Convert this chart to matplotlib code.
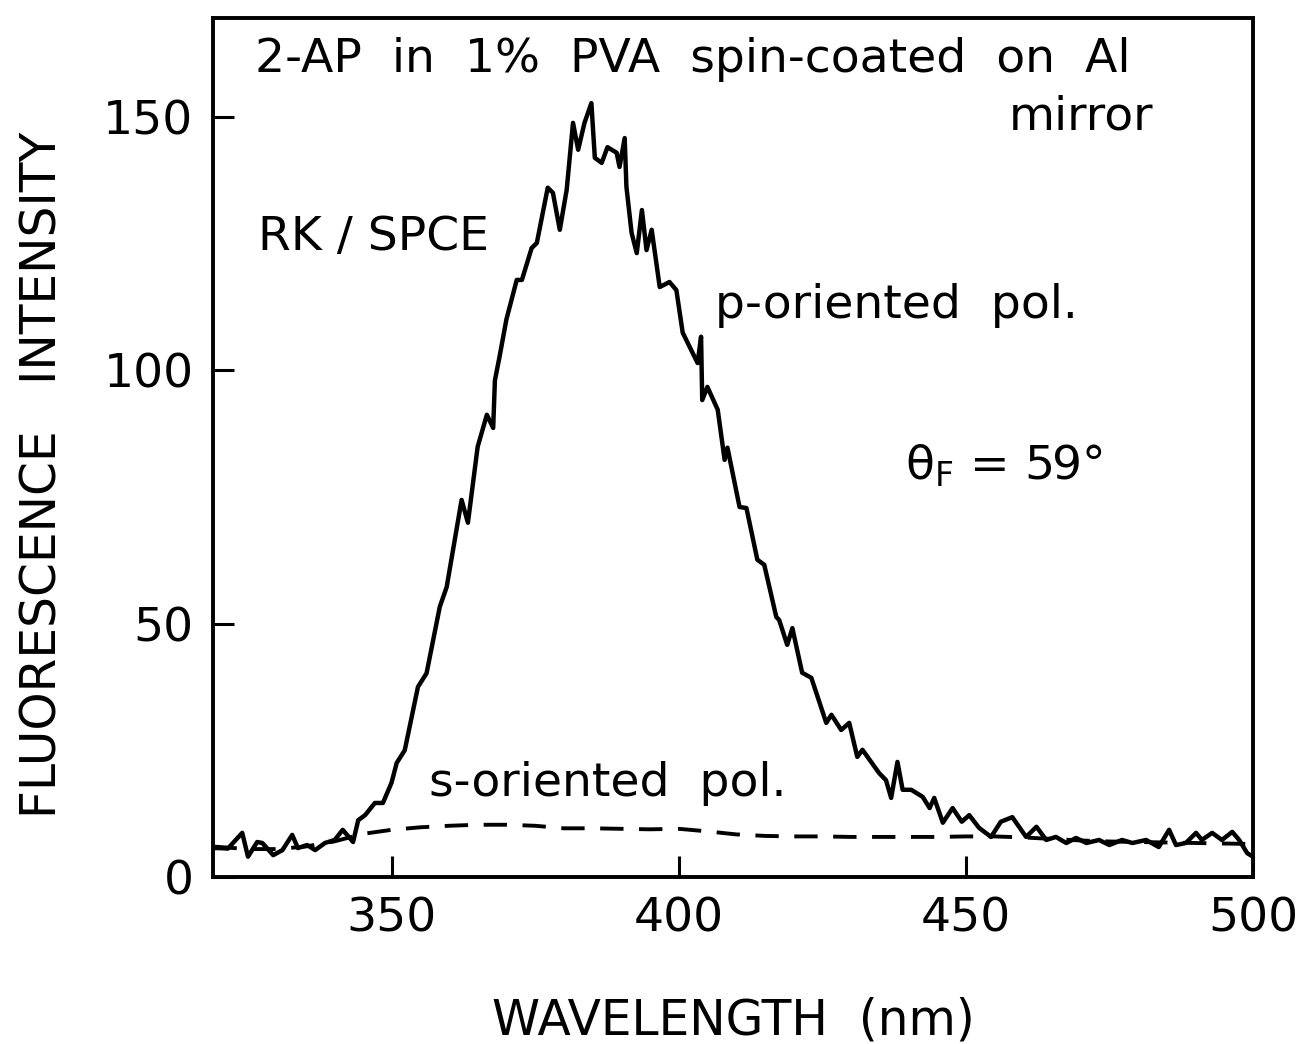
import matplotlib
matplotlib.use("Agg")
import matplotlib.pyplot as plt

# p-oriented polarisation (solid)
wl_p = [318.9, 320.0, 321.5, 324.0, 325.0, 326.6, 327.5, 329.4, 331.0, 332.7,
        333.7, 335.3, 336.7, 338.4, 340.1, 341.5, 343.3, 344.2, 345.4, 347.1,
        348.5, 350.0, 350.9, 352.3, 354.6, 356.1, 358.4, 359.6, 362.2, 363.3,
        365.0, 366.6, 367.7, 368.0, 368.8, 370.0, 371.8, 372.7, 374.4, 375.3,
        377.2, 378.1, 379.3, 380.5, 381.6, 382.5, 383.6, 384.8, 385.4, 386.6,
        387.6, 389.2, 389.7, 390.6, 390.9, 391.8, 392.7, 393.6, 394.4, 395.3,
        396.7, 398.4, 399.6, 400.7, 403.3, 403.9, 404.1, 405.0, 406.8, 408.0,
        408.5, 410.6, 411.8, 413.7, 414.9, 417.0, 417.5, 418.9, 419.8, 421.5,
        423.1, 425.7, 426.6, 428.3, 429.7, 431.1, 432.0, 434.9, 436.1, 437.0,
        438.1, 439.0, 440.5, 442.5, 443.7, 444.5, 446.0, 447.7, 449.3, 450.6,
        452.3, 454.4, 456.1, 458.1, 460.5, 462.3, 464.0, 465.7, 467.5, 469.2,
        471.0, 473.2, 475.0, 477.2, 479.0, 481.4, 483.6, 485.4, 486.6, 488.3,
        490.1, 491.1, 492.9, 494.6, 496.4, 497.6, 499.0, 500.0]
int_p = [5.7, 5.7, 5.6, 8.7, 4.0, 6.9, 6.7, 4.3, 5.3, 8.3,
         5.7, 6.3, 5.3, 6.7, 7.3, 9.3, 6.9, 11.2, 12.2, 14.6,
         14.6, 18.6, 22.5, 25.0, 37.5, 40.2, 53.3, 57.2, 74.4, 69.9,
         84.9, 91.2, 88.6, 98.0, 102.6, 110.0, 117.8, 117.8, 124.1, 125.1,
         136.0, 135.0, 127.7, 135.6, 148.8, 143.5, 148.8, 152.7, 141.9, 140.9,
         144.0, 142.9, 140.1, 145.8, 136.2, 127.1, 123.1, 131.6, 123.7, 127.7,
         116.4, 117.4, 115.8, 107.4, 101.4, 106.6, 94.1, 96.7, 92.2, 82.3,
         84.7, 73.0, 72.8, 62.6, 61.6, 51.3, 50.7, 45.8, 49.1, 40.3,
         39.3, 30.4, 32.0, 29.0, 30.4, 23.7, 25.1, 20.5, 19.1, 15.6,
         22.7, 17.2, 17.2, 15.8, 13.6, 15.6, 10.7, 13.6, 10.9, 12.2,
         9.7, 7.9, 10.9, 11.8, 7.9, 9.9, 7.3, 7.9, 6.7, 7.7,
         6.7, 7.3, 6.3, 7.3, 6.7, 7.3, 5.9, 9.3, 6.3, 6.7,
         8.7, 7.3, 8.7, 7.3, 8.9, 7.3, 4.7, 4.0]

# s-oriented polarisation (dashed)
wl_s = [319, 325, 330, 335, 340, 345, 350, 355, 360, 365, 370, 375, 380,
        385, 390, 395, 400, 405, 410, 415, 420, 425, 430, 435, 440, 445,
        450, 455, 460, 465, 470, 475, 480, 485, 490, 495, 500]
int_s = [6.0, 5.5, 5.5, 6.0, 7.0, 8.5, 9.3, 9.8, 10.1, 10.3, 10.3, 10.1, 9.6,
         9.6, 9.5, 9.4, 9.5, 9.0, 8.4, 8.1, 8.0, 8.0, 7.9, 7.9, 7.9, 7.9,
         8.0, 8.0, 7.8, 7.5, 7.2, 7.0, 6.9, 6.8, 6.7, 6.6, 6.5]

fig = plt.figure(figsize=(13, 10.44), dpi=100)
ax = fig.add_axes([0.1638, 0.16, 0.80, 0.8228])

ax.plot(wl_p, int_p, color="black", lw=3.2, solid_joinstyle="round")
ax.plot(wl_s, int_s, color="black", lw=2.8, dashes=(6, 4))

ax.set_xlim(318.9, 500)
ax.set_ylim(0, 169.5)
ax.set_xticks([350, 400, 450, 500])
ax.set_yticks([0, 50, 100, 150])
ax.tick_params(direction="in", length=15, width=2.2, labelsize=34, pad=14,
               top=False, right=False)
for s in ax.spines.values():
    s.set_linewidth(2.8)

ax.set_xlabel("WAVELENGTH  (nm)", fontsize=35, labelpad=40)
ax.set_ylabel("FLUORESCENCE   INTENSITY", fontsize=35)
ax.yaxis.set_label_coords(-0.141, 0.468)

fs = 34
ax.text(0.04, 0.952, "2-AP  in  1%  PVA  spin-coated  on  Al",
        transform=ax.transAxes, fontsize=fs, ha="left", va="center")
ax.text(0.904, 0.885, "mirror", transform=ax.transAxes, fontsize=fs,
        ha="right", va="center")
ax.text(0.043, 0.745, "RK / SPCE", transform=ax.transAxes, fontsize=fs,
        ha="left", va="center")
ax.text(0.483, 0.665, "p-oriented  pol.", transform=ax.transAxes, fontsize=fs,
        ha="left", va="center")
ax.text(0.665, 0.478, "\u03b8$_\\mathrm{F}$ = 59°", transform=ax.transAxes,
        fontsize=fs, ha="left", va="center")
ax.text(0.208, 0.109, "s-oriented  pol.", transform=ax.transAxes, fontsize=fs,
        ha="left", va="center")

fig.savefig("out.png", dpi=100)
